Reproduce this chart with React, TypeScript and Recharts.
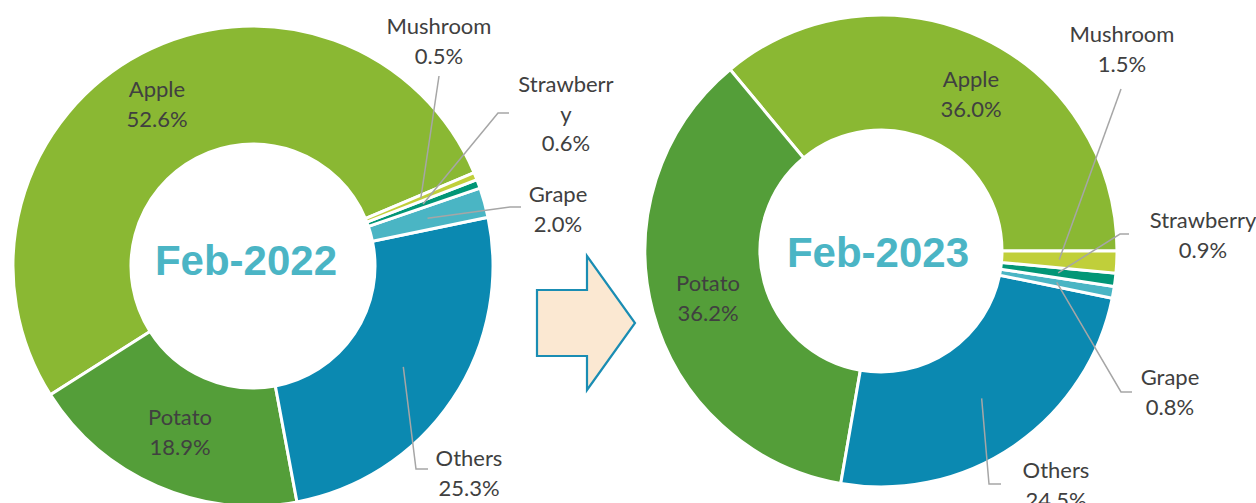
import React from 'react';
import { PieChart, Pie, Cell } from 'recharts';

const categories = ['Apple', 'Potato', 'Others', 'Grape', 'Strawberry', 'Mushroom'];
const share2022 = [52.6, 18.9, 25.3, 2.0, 0.6, 0.5];
const share2023 = [36.0, 36.2, 24.5, 0.8, 0.9, 1.5];
const periods = ['Feb-2022', 'Feb-2023'];

const colors = ['#8AB833', '#549E39', '#0B89B1', '#4AB5C4', '#029676', '#C0CF3A'];

// donut geometry
const pies = [
    { cx: 248, cy: 261, inner: 122, outer: 240, start: 22.9, titleDx: -2, titleDy: 14 },
    { cx: 876, cy: 246, inner: 121, outer: 236, start: 0, titleDx: 2, titleDy: 21 },
];

type Spot = {
    dx: number; // label block centre x, relative to pie centre
    dy: number; // first baseline, relative to pie centre
    wrap?: number;
    leader?: 'up' | 'side';
    bx?: number;
    by?: number;
    ex?: number;
};

// label placement (Excel style), offsets from each pie centre
const spots2022: Spot[] = [
    { dx: -96, dy: -169 },
    { dx: -73, dy: 159 },
    { dx: 216, dy: 200, leader: 'side', bx: 163, by: 203, ex: 175 },
    { dx: 305, dy: -64, leader: 'side', bx: 257, by: -59, ex: 268 },
    { dx: 313, dy: -174, wrap: 9, leader: 'side', bx: 245, by: -153, ex: 256 },
    { dx: 186, dy: -232, leader: 'up', bx: 186, by: -190 },
];
const spots2023: Spot[] = [
    { dx: 90, dy: -164 },
    { dx: -173, dy: 40 },
    { dx: 175, dy: 227, leader: 'side', bx: 108, by: 233, ex: 120 },
    { dx: 289, dy: 134, leader: 'side', bx: 240, by: 141, ex: 251 },
    { dx: 322, dy: -23, leader: 'side', bx: 239, by: -17, ex: 248 },
    { dx: 241, dy: -209, leader: 'up', bx: 240, by: -162 },
];

const RADIAN = Math.PI / 180;
const LINE_H = 29.5;

const toRows = (values: number[]) => categories.map((name, i) => ({ name, value: values[i] }));

const wrapName = (name: string, n?: number) => {
    if (!n || name.length <= n) return [name];
    const out: string[] = [];
    for (let i = 0; i < name.length; i += n) out.push(name.slice(i, i + n));
    return out;
};

const makeLabel = (spots: Spot[]) => (props: any) => {
    const { cx, cy, midAngle, innerRadius, outerRadius, index, name, value } = props;
    const s = spots[index];
    const lines = [...wrapName(name, s.wrap), `${Number(value).toFixed(1)}%`];
    const x = cx + s.dx;
    let leader = null;
    if (s.leader) {
        const r = (innerRadius + outerRadius) / 2;
        const sx = cx + r * Math.cos(-midAngle * RADIAN);
        const sy = cy + r * Math.sin(-midAngle * RADIAN);
        const pts = [[sx, sy], [cx + (s.bx ?? 0), cy + (s.by ?? 0)]];
        if (s.leader === 'side') pts.push([cx + (s.ex ?? 0), cy + (s.by ?? 0)]);
        leader = (
            <polyline
                points={pts.map(p => p.join(',')).join(' ')}
                fill="none"
                stroke="#A6A6A6"
                strokeWidth={1.5}
            />
        );
    }
    return (
        <g key={`lbl-${index}`}>
            {leader}
            {lines.map((t, i) => (
                <text
                    key={i}
                    x={x}
                    y={cy + s.dy + i * LINE_H}
                    textAnchor="middle"
                    fontFamily="Lato, 'Open Sans', sans-serif"
                    fontSize={22}
                    fill="#404040"
                >
                    {t}
                </text>
            ))}
        </g>
    );
};

// block arrow between the two donuts + centre titles
const Overlay = () => (
    <svg width={1256} height={503} style={{ position: 'absolute', left: 0, top: 0, pointerEvents: 'none' }}>
        <polygon
            points="537,290 587,290 587,256 635,323 587,390 587,356 537,356"
            fill="#FBE8D2"
            stroke="#1A8DB3"
            strokeWidth={2.2}
        />
        {pies.map((p, i) => (
            <text
                key={i}
                x={p.cx + p.titleDx}
                y={p.cy + p.titleDy}
                textAnchor="middle"
                fontFamily="'Liberation Sans', Arial, sans-serif"
                fontSize={42}
                fontWeight={700}
                fill="#4BB5C5"
            >
                {periods[i]}
            </text>
        ))}
    </svg>
);

export default function App() {
    const series = [share2022, share2023];
    const spots = [spots2022, spots2023];
    return (
        <div style={{ position: 'absolute', left: 0, top: 0, width: 1256, height: 503, background: '#fff' }}>
            <PieChart width={1256} height={503} style={{ position: 'absolute', left: 0, top: 0 }}>
                {pies.map((p, k) => (
                    <Pie
                        key={k}
                        data={toRows(series[k])}
                        dataKey="value"
                        nameKey="name"
                        cx={p.cx}
                        cy={p.cy}
                        innerRadius={p.inner}
                        outerRadius={p.outer}
                        startAngle={p.start}
                        endAngle={p.start + 360}
                        stroke="#fff"
                        strokeWidth={3}
                        label={makeLabel(spots[k])}
                        labelLine={false}
                        isAnimationActive={false}
                    >
                        {series[k].map((_, i) => (
                            <Cell key={i} fill={colors[i]} />
                        ))}
                    </Pie>
                ))}
            </PieChart>
            <Overlay />
        </div>
    );
}
